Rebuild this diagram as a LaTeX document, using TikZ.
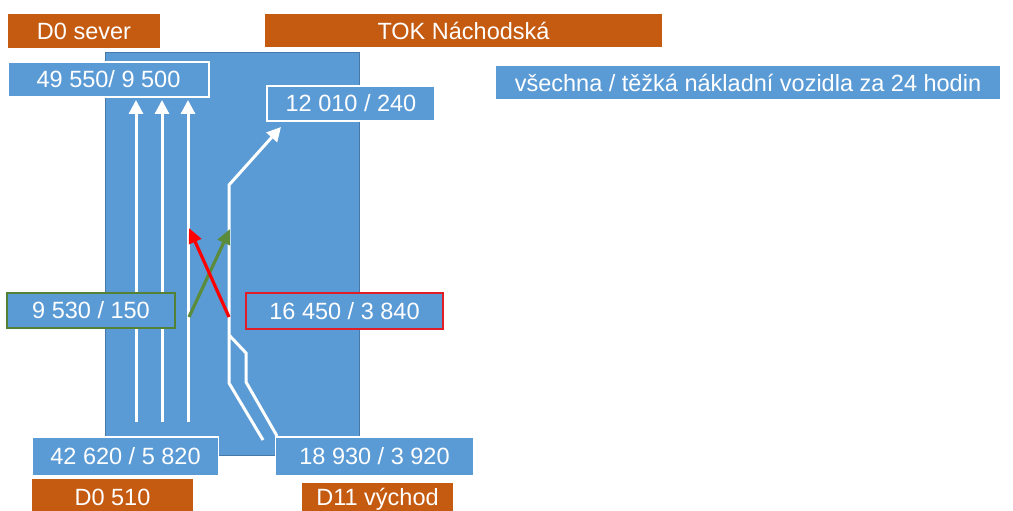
\documentclass[tikz,border=0pt]{standalone}
\usepackage{fontspec}
\setmainfont{Liberation Sans}
\usetikzlibrary{arrows.meta}
\definecolor{bx}{RGB}{91,155,213}
\definecolor{bxedge}{RGB}{70,120,170}
\definecolor{org}{RGB}{197,90,17}
\definecolor{grn}{RGB}{84,130,53}
\definecolor{grnarrow}{RGB}{90,140,60}
\definecolor{rd}{RGB}{255,0,0}
\definecolor{rdedge}{RGB}{225,30,40}
\begin{document}
\begin{tikzpicture}[x=1pt,y=-1pt,
  lbl/.style={inner sep=0pt, text=white, font=\fontsize{23.5}{27}\selectfont, anchor=center},
  orangebox/.style={lbl, fill=org},
  bluebox/.style={lbl, fill=bx, draw=white, line width=1.8pt},
  legendbox/.style={lbl, fill=bx},
  greenbox/.style={lbl, fill=bx, draw=grn, line width=1.5pt},
  redbox/.style={lbl, fill=bx, draw=rdedge, line width=1.5pt},
  flow/.style={draw=white, line width=3pt, line join=miter},
  flowarrow/.style={flow, -{Triangle[width=14pt,length=14pt]}},
  redarrow/.style={draw=rd, line width=3.2pt, -{Triangle[width=13pt,length=15pt]}},
  greenarrow/.style={draw=grnarrow, line width=3.2pt, -{Triangle[width=13pt,length=15pt]}}
]
\useasboundingbox (0,0) rectangle (1013,511);
\fill[white] (0,0) rectangle (1013,511);

% junction area
\path[fill=bx, draw=bxedge, line width=0.8pt] (105,52) rectangle (359,455);

% flows from D0 510 to D0 sever
\coordinate (a1s) at (136,422); \coordinate (a1e) at (136,100);
\coordinate (a2s) at (162,422); \coordinate (a2e) at (162,100);
\coordinate (a3s) at (188,422); \coordinate (a3e) at (188,100);
\draw[flowarrow] (a1s) -- (a1e);
\draw[flowarrow] (a2s) -- (a2e);
\draw[flowarrow] (a3s) -- (a3e);

% flow from D11 to TOK
\coordinate (b0) at (263,440);
\coordinate (b1) at (229,383);
\coordinate (b2) at (229,185);
\coordinate (b3) at (281,127);
\draw[flowarrow] (b0) -- (b1) -- (b2) -- (b3);

% branch
\coordinate (c0) at (229,335);
\coordinate (c1) at (246,353);
\coordinate (c2) at (246,382);
\coordinate (c3) at (277,436);
\draw[flow] (c0) -- (c1) -- (c2) -- (c3);

% crossing arrows
\coordinate (r0) at (229,317); \coordinate (r1) at (189,228);
\coordinate (g0) at (189,317); \coordinate (g1) at (230,229);
\draw[greenarrow] (g0) -- (g1);
\draw[redarrow] (r0) -- (r1);

% labels
\node[orangebox, minimum width=152pt, minimum height=34pt] (sever) at (84,31) {D0 sever};
\node[orangebox, minimum width=397pt, minimum height=33pt] (tok) at (463.5,30.5) {TOK Náchodská};
\node[bluebox, minimum width=201pt, minimum height=35pt] (n1) at (108.5,79.5) {49 550/ 9 500};
\node[bluebox, minimum width=168pt, minimum height=35pt] (n2) at (351,103.5) {12 010 / 240};
\node[legendbox, minimum width=504pt, minimum height=33pt] (leg) at (748,82.5) {všechna / těžká nákladní vozidla za 24 hodin};
\node[greenbox, minimum width=168pt, minimum height=35pt] (n3) at (91,310.5) {9 530 / 150};
\node[redbox, minimum width=197pt, minimum height=36pt] (n4) at (344.5,311) {16 450 / 3 840};
\node[bluebox, minimum width=186pt, minimum height=39pt] (n5) at (125.5,456.5) {42 620 / 5 820};
\node[bluebox, minimum width=198pt, minimum height=39pt] (n6) at (374.5,456.5) {18 930 / 3 920};
\node[orangebox, minimum width=161pt, minimum height=36pt] (d0) at (112.5,497) {D0 510};
\node[orangebox, minimum width=151pt, minimum height=32pt] (d11) at (377.5,499) {D11 východ};
\end{tikzpicture}
\end{document}
